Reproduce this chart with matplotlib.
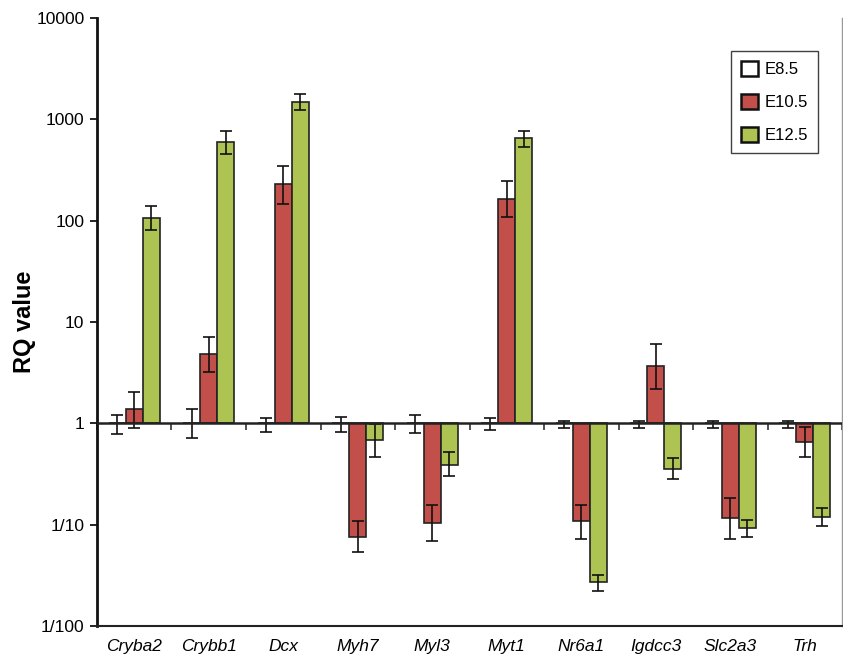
import matplotlib
matplotlib.use("Agg")
import matplotlib.pyplot as plt
from matplotlib.patches import Patch
import numpy as np

plt.rcParams['font.family'] = ['Liberation Sans', 'DejaVu Sans']

# values (RQ, log scale)
genes = ['Cryba2', 'Crybb1', 'Dcx', 'Myh7', 'Myl3', 'Myt1', 'Nr6a1', 'Igdcc3', 'Slc2a3', 'Trh']

e85 = [1, 1, 1, 1, 1, 1, 1, 1, 1, 1]
e85_lo = [0.79, 0.71, 0.83, 0.83, 0.80, 0.86, 0.89, 0.89, 0.89, 0.89]
e85_hi = [1.21, 1.38, 1.13, 1.15, 1.21, 1.13, 1.05, 1.06, 1.06, 1.06]

e105 = [1.37, 4.85, 229, 0.075, 0.105, 164, 0.108, 3.69, 0.116, 0.66]
e105_lo = [0.89, 3.22, 147, 0.054, 0.069, 109, 0.073, 2.17, 0.073, 0.47]
e105_hi = [2.04, 7.15, 348, 0.108, 0.155, 245, 0.155, 6.05, 0.184, 0.91]

e125 = [107, 590, 1480, 0.68, 0.39, 653, 0.0273, 0.356, 0.092, 0.12]
e125_lo = [81, 455, 1220, 0.47, 0.30, 537, 0.022, 0.28, 0.075, 0.098]
e125_hi = [139, 765, 1750, 0.98, 0.52, 766, 0.032, 0.46, 0.111, 0.145]

series = [
    ('E8.5', e85, e85_lo, e85_hi, 'white'),
    ('E10.5', e105, e105_lo, e105_hi, '#C24F4A'),
    ('E12.5', e125, e125_lo, e125_hi, '#ADC352'),
]

yticks = [0.01, 0.1, 1, 10, 100, 1000, 10000]
ytick_labels = ['1/100', '1/10', '1', '10', '100', '1000', '10000']

fig = plt.figure(figsize=(8.43, 6.57), dpi=100)
ax = fig.add_axes([0.115, 0.047, 0.884, 0.926])
ax.set_yscale('log')

x = np.arange(len(genes))
width = 0.228
edge = '#222222'

for i, (name, vals, lo, hi, color) in enumerate(series):
    vals = np.array(vals, dtype=float)
    lo = np.array(lo)
    hi = np.array(hi)
    pos = x + (i - 1) * width
    ax.bar(pos, vals - 1, bottom=1, width=width, color=color,
           edgecolor=edge, linewidth=1.2, zorder=2)
    ax.errorbar(pos, vals, yerr=[vals - lo, hi - vals], fmt='none',
                ecolor='#111111', elinewidth=1.2, capsize=4, capthick=1.2, zorder=3)

ax.set_xlim(-0.5, len(genes) - 0.5)
ax.set_ylim(0.01, 10000)

# baseline at RQ = 1 with group ticks below it
ax.axhline(1, color='#222222', linewidth=1.8, zorder=4)
base = ax.secondary_xaxis(1 / 3)
base.set_xticks(np.arange(len(genes) + 1) - 0.5)
base.tick_params(axis='x', direction='out', length=5, width=1.2,
                 color='#333333', labelbottom=False, labeltop=False)
base.spines['bottom'].set_visible(False)
base.spines['top'].set_visible(False)

ax.set_xticks(x)
ax.set_xticklabels(genes, fontstyle='italic', fontsize=12.5)
ax.tick_params(axis='x', length=0, pad=9)

ax.set_yticks(yticks)
ax.set_yticklabels(ytick_labels, fontsize=12.5)
ax.yaxis.set_minor_locator(matplotlib.ticker.NullLocator())
ax.tick_params(axis='y', direction='out', length=5, width=1.2, pad=4)
ax.set_ylabel('RQ value', fontsize=17, fontweight='bold', labelpad=0)

ax.spines['top'].set_visible(False)
ax.spines['left'].set_linewidth(2)
ax.spines['left'].set_color('#111111')
ax.spines['bottom'].set_linewidth(1.5)
ax.spines['bottom'].set_color('#222222')
ax.spines['right'].set_color('#999999')
ax.spines['right'].set_linewidth(1)

handles = [Patch(facecolor=s[4], edgecolor='#111111', linewidth=1.8, label=s[0]) for s in series]
leg = ax.legend(handles=handles, loc='upper right', bbox_to_anchor=(0.968, 0.946),
                borderaxespad=0, fontsize=12, handlelength=1.0, handleheight=1.0,
                handletextpad=0.4, labelspacing=1.0, borderpad=0.62, fancybox=False)
leg.get_frame().set_edgecolor('#111111')
leg.get_frame().set_linewidth(1.0)

fig.savefig('out.png', dpi=100)
